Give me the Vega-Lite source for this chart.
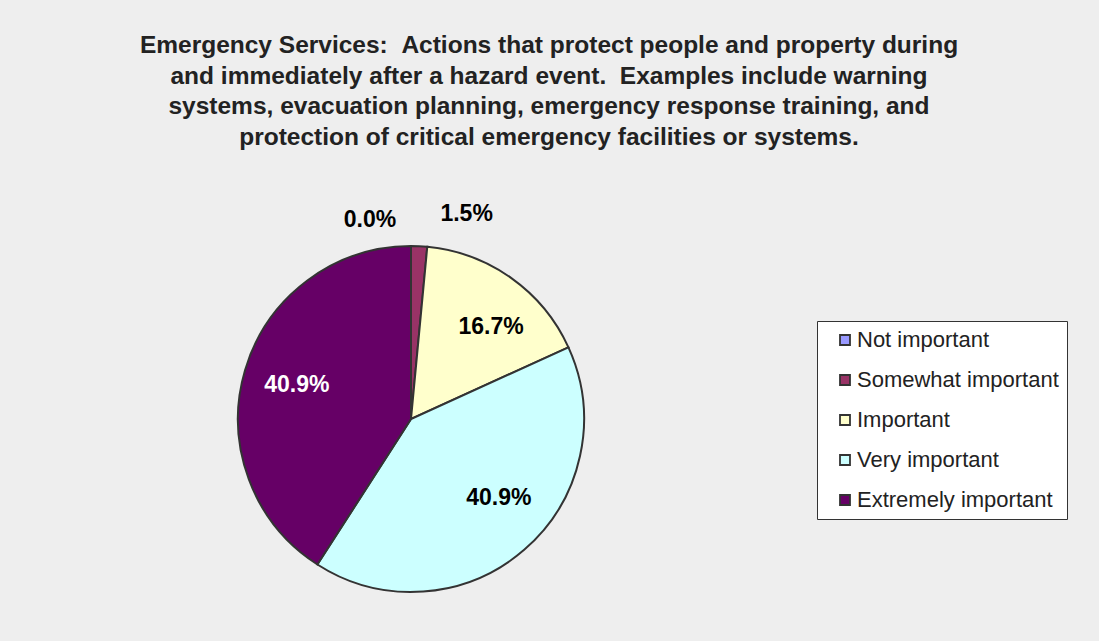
{
  "$schema": "https://vega.github.io/schema/vega-lite/v6.json",
  "autosize": "none",
  "width": 346,
  "height": 346,
  "padding": {"left": 238, "top": 246, "right": 515, "bottom": 49},
  "background": "#eeeeee",
  "title": {
    "text": [
      "Emergency Services: \u00a0Actions that protect people and property during",
      "and immediately after a hazard event. \u00a0Examples include warning",
      "systems, evacuation planning, emergency response training, and",
      "protection of critical emergency facilities or systems."
    ],
    "anchor": "middle",
    "frame": "group",
    "dx": 138,
    "offset": 53,
    "font": "Liberation Sans",
    "fontSize": 24.5,
    "fontWeight": "bold",
    "color": "#222222",
    "lineHeight": 30.5
  },
  "data": {
    "values": [
      {"category": "Not important", "value": 0.0, "order": 1},
      {"category": "Somewhat important", "value": 0.015, "order": 2},
      {"category": "Important", "value": 0.167, "order": 3},
      {"category": "Very important", "value": 0.409, "order": 4},
      {"category": "Extremely important", "value": 0.409, "order": 5}
    ]
  },
  "encoding": {
    "theta": {"field": "value", "type": "quantitative", "stack": true},
    "order": {"field": "order", "type": "quantitative"}
  },
  "layer": [
    {
      "mark": {"type": "arc", "radius": 173, "stroke": "#333333", "strokeWidth": 2},
      "encoding": {
        "color": {
          "field": "category",
          "type": "nominal",
          "scale": {
            "domain": ["Not important", "Somewhat important", "Important", "Very important", "Extremely important"],
            "range": ["#9999ff", "#993366", "#ffffcc", "#ccffff", "#660066"]
          },
          "legend": {
            "title": null,
            "orient": "none",
            "legendX": 579,
            "legendY": 75,
            "fillColor": "#ffffff",
            "strokeColor": "#333333",
            "padding": 8,
            "symbolOffset": 9,
            "symbolType": "square",
            "symbolSize": 100,
            "symbolStrokeColor": "#333333",
            "symbolStrokeWidth": 1.8,
            "symbolOpacity": 1,
            "labelFont": "Liberation Sans",
            "labelFontSize": 22,
            "labelColor": "#222222",
            "labelOffset": 1,
            "labelLimit": 400,
            "rowPadding": 18
          }
        }
      }
    },
    {
      "mark": {"type": "text", "radius": 119, "font": "Liberation Sans", "fontSize": 23, "fontWeight": "bold", "color": "#ffffff"},
      "encoding": {
        "text": {"condition": {"test": "datum.category === 'Extremely important'", "field": "value", "type": "quantitative", "format": ".1%"}, "value": ""}
      }
    },
    {
      "mark": {"type": "text", "radius": 119, "dx": 11, "dy": 5, "font": "Liberation Sans", "fontSize": 23, "fontWeight": "bold", "color": "#000000"},
      "encoding": {
        "text": {"condition": {"test": "datum.category === 'Important'", "field": "value", "type": "quantitative", "format": ".1%"}, "value": ""}
      }
    },
    {
      "mark": {"type": "text", "radius": 119, "dx": 10, "dy": -11, "font": "Liberation Sans", "fontSize": 23, "fontWeight": "bold", "color": "#000000"},
      "encoding": {
        "text": {"condition": {"test": "datum.category === 'Very important'", "field": "value", "type": "quantitative", "format": ".1%"}, "value": ""}
      }
    },
    {
      "mark": {"type": "text", "radius": 199, "dx": -41, "font": "Liberation Sans", "fontSize": 23, "fontWeight": "bold", "color": "#000000"},
      "encoding": {
        "text": {"condition": {"test": "datum.category === 'Not important'", "field": "value", "type": "quantitative", "format": ".1%"}, "value": ""}
      }
    },
    {
      "mark": {"type": "text", "radius": 205, "dx": 46, "font": "Liberation Sans", "fontSize": 23, "fontWeight": "bold", "color": "#000000"},
      "encoding": {
        "text": {"condition": {"test": "datum.category === 'Somewhat important'", "field": "value", "type": "quantitative", "format": ".1%"}, "value": ""}
      }
    }
  ],
  "config": {"view": {"stroke": null}}
}
